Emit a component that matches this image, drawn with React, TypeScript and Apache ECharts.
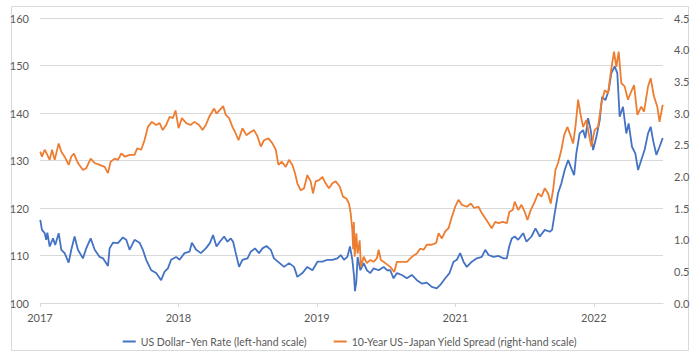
import React, { useEffect, useRef } from "react";
import * as echarts from "echarts";

// x = years since the first tick (first tick labelled 2017)
const tickLabels = ["2017", "2018", "2019", "2021", "2022"];
const tickPositions = [0, 1, 2, 3, 4];

const usdJpyRate: [number, number][] = [
  [0.002, 117.5], [0.014, 115.4], [0.034, 114.7], [0.045, 113.3], [0.053, 114.8], [0.07, 111.9],
  [0.094, 113.6], [0.11, 112.2], [0.135, 114.7], [0.154, 111.2], [0.178, 110.5], [0.207, 108.5],
  [0.226, 111.2], [0.25, 114.0], [0.274, 111.2], [0.31, 109.4], [0.334, 111.5], [0.366, 113.6],
  [0.395, 111.2], [0.431, 109.7], [0.455, 109.4], [0.491, 107.8], [0.503, 111.5], [0.527, 112.7],
  [0.563, 112.6], [0.599, 113.8], [0.623, 113.3], [0.647, 111.2], [0.683, 113.3], [0.719, 112.7],
  [0.743, 111.2], [0.767, 109.1], [0.803, 106.9], [0.839, 106.3], [0.875, 104.8], [0.9, 106.6],
  [0.924, 107.3], [0.947, 109.1], [0.983, 109.7], [1.008, 109.1], [1.044, 110.5], [1.08, 110.8],
  [1.097, 112.7], [1.128, 111.2], [1.162, 110.5], [1.198, 111.5], [1.227, 112.6], [1.25, 114.3],
  [1.275, 111.9], [1.299, 112.9], [1.33, 114.0], [1.354, 112.9], [1.378, 113.6], [1.395, 112.9],
  [1.414, 110.5], [1.438, 107.6], [1.462, 109.1], [1.499, 109.4], [1.522, 110.8], [1.553, 111.5],
  [1.582, 110.5], [1.607, 111.5], [1.636, 112.0], [1.667, 111.2], [1.69, 109.4], [1.727, 108.5],
  [1.763, 107.6], [1.799, 108.4], [1.835, 107.6], [1.859, 105.5], [1.895, 106.3], [1.931, 107.6],
  [1.968, 106.9], [2.004, 108.7], [2.04, 108.7], [2.076, 109.1], [2.112, 109.1], [2.148, 109.4],
  [2.172, 110.1], [2.196, 109.1], [2.22, 109.7], [2.239, 111.9], [2.256, 109.1], [2.269, 105.5],
  [2.275, 102.5], [2.285, 104.5], [2.294, 109.7], [2.314, 106.9], [2.338, 108.4], [2.361, 106.9],
  [2.386, 106.3], [2.41, 107.3], [2.446, 106.9], [2.482, 107.6], [2.506, 106.9], [2.53, 106.9],
  [2.554, 105.2], [2.578, 106.3], [2.614, 105.9], [2.65, 105.2], [2.686, 105.9], [2.722, 104.8],
  [2.758, 104.1], [2.794, 104.3], [2.83, 103.4], [2.866, 103.1], [2.891, 103.8], [2.927, 105.2],
  [2.958, 106.3], [2.987, 108.7], [3.011, 109.1], [3.035, 110.5], [3.059, 108.7], [3.083, 107.6],
  [3.119, 108.7], [3.155, 109.4], [3.191, 109.7], [3.216, 111.2], [3.24, 110.1], [3.276, 109.7],
  [3.312, 109.9], [3.348, 109.4], [3.372, 109.4], [3.389, 111.9], [3.408, 113.6], [3.429, 114.0],
  [3.454, 113.3], [3.49, 114.7], [3.514, 112.9], [3.55, 114.0], [3.579, 115.7], [3.61, 114.0],
  [3.646, 115.4], [3.682, 115.0], [3.699, 115.4], [3.718, 118.9], [3.742, 123.1], [3.766, 125.2],
  [3.79, 128.0], [3.815, 130.1], [3.833, 128.7], [3.858, 126.9], [3.874, 131.5], [3.898, 135.7],
  [3.923, 136.4], [3.939, 134.7], [3.959, 138.9], [3.978, 136.4], [3.995, 132.2], [4.019, 135.0],
  [4.043, 138.5], [4.06, 143.4], [4.084, 142.7], [4.108, 144.8], [4.127, 148.4], [4.151, 149.8],
  [4.17, 148.4], [4.187, 139.2], [4.211, 141.3], [4.235, 135.7], [4.252, 137.8], [4.276, 132.9],
  [4.3, 131.5], [4.32, 128.0], [4.343, 130.1], [4.367, 132.2], [4.392, 135.7], [4.411, 137.1],
  [4.428, 134.3], [4.452, 131.2], [4.475, 132.9], [4.498, 134.7],
];

const yieldSpread: [number, number][] = [
  [0.002, 2.39], [0.014, 2.31], [0.034, 2.42], [0.053, 2.34], [0.07, 2.26], [0.087, 2.42],
  [0.106, 2.26], [0.135, 2.52], [0.154, 2.39], [0.178, 2.31], [0.207, 2.18], [0.226, 2.31],
  [0.245, 2.36], [0.274, 2.21], [0.31, 2.10], [0.334, 2.13], [0.366, 2.28], [0.395, 2.21],
  [0.431, 2.18], [0.467, 2.15], [0.491, 2.05], [0.51, 2.23], [0.539, 2.28], [0.563, 2.26],
  [0.587, 2.36], [0.615, 2.31], [0.647, 2.34], [0.683, 2.34], [0.702, 2.44], [0.731, 2.42],
  [0.755, 2.57], [0.779, 2.78], [0.808, 2.86], [0.839, 2.81], [0.864, 2.84], [0.887, 2.73],
  [0.911, 2.81], [0.936, 2.94], [0.96, 2.92], [0.979, 3.04], [1.001, 2.76], [1.025, 2.92],
  [1.056, 2.84], [1.087, 2.81], [1.116, 2.86], [1.149, 2.81], [1.174, 2.73], [1.198, 2.81],
  [1.222, 2.94], [1.258, 3.07], [1.275, 2.99], [1.299, 3.05], [1.323, 3.11], [1.342, 2.97],
  [1.366, 2.92], [1.39, 2.78], [1.409, 2.70], [1.434, 2.57], [1.462, 2.76], [1.491, 2.65],
  [1.522, 2.70], [1.546, 2.73], [1.571, 2.63], [1.595, 2.47], [1.618, 2.57], [1.65, 2.60],
  [1.679, 2.52], [1.703, 2.42], [1.722, 2.18], [1.746, 2.23], [1.775, 2.15], [1.799, 2.26],
  [1.823, 2.18], [1.842, 2.05], [1.859, 1.89], [1.883, 1.78], [1.907, 1.81], [1.931, 2.02],
  [1.955, 1.92], [1.972, 1.73], [1.991, 1.92], [2.015, 1.94], [2.04, 1.99], [2.063, 1.89],
  [2.087, 1.81], [2.112, 1.89], [2.136, 1.92], [2.165, 1.84], [2.188, 1.68], [2.213, 1.65],
  [2.232, 1.57], [2.244, 1.42], [2.256, 1.15], [2.262, 0.85], [2.267, 1.28], [2.273, 0.73],
  [2.285, 1.10], [2.294, 0.78], [2.309, 0.99], [2.318, 0.57], [2.338, 0.73], [2.361, 0.63],
  [2.386, 0.68], [2.41, 0.65], [2.434, 0.71], [2.446, 0.84], [2.462, 0.68], [2.494, 0.63],
  [2.53, 0.57], [2.559, 0.49], [2.578, 0.65], [2.614, 0.65], [2.65, 0.65], [2.686, 0.73],
  [2.722, 0.78], [2.747, 0.86], [2.771, 0.84], [2.794, 0.92], [2.83, 0.92], [2.862, 0.95],
  [2.879, 1.10], [2.903, 1.02], [2.927, 1.13], [2.951, 1.18], [2.975, 1.36], [2.999, 1.52],
  [3.023, 1.63], [3.047, 1.55], [3.083, 1.52], [3.112, 1.57], [3.136, 1.50], [3.167, 1.52],
  [3.191, 1.42], [3.216, 1.34], [3.24, 1.26], [3.263, 1.18], [3.288, 1.28], [3.312, 1.26],
  [3.343, 1.28], [3.372, 1.26], [3.391, 1.44], [3.415, 1.47], [3.429, 1.60], [3.454, 1.47],
  [3.478, 1.55], [3.501, 1.44], [3.521, 1.31], [3.545, 1.47], [3.574, 1.60], [3.598, 1.73],
  [3.622, 1.68], [3.646, 1.81], [3.67, 1.73], [3.689, 1.57], [3.706, 1.78], [3.723, 2.10],
  [3.742, 2.21], [3.766, 2.42], [3.786, 2.65], [3.81, 2.78], [3.826, 2.68], [3.851, 2.52],
  [3.869, 2.81], [3.887, 3.21], [3.905, 2.97], [3.923, 2.78], [3.947, 2.89], [3.963, 2.68],
  [3.983, 2.47], [4.006, 2.73], [4.031, 2.78], [4.055, 3.15], [4.079, 3.36], [4.103, 3.31],
  [4.122, 3.63], [4.146, 3.97], [4.163, 3.73], [4.18, 3.97], [4.199, 3.47], [4.223, 3.42],
  [4.247, 3.21], [4.271, 3.34], [4.291, 3.44], [4.315, 2.97], [4.343, 3.10], [4.363, 3.02],
  [4.392, 3.42], [4.411, 3.55], [4.435, 3.26], [4.459, 3.10], [4.475, 2.86], [4.498, 3.13],
];

const seriesNames = [
  "US Dollar\u2013Yen Rate (left-hand scale)",
  "10-Year US\u2013Japan Yield Spread (right-hand scale)",
];

const FONT = "Lato, 'Open Sans', sans-serif";
const GRID = "#d9d9d9";
const LABEL = "#595959";

export default function App() {
  const ref = useRef<HTMLDivElement>(null);
  useEffect(() => {
    if (!ref.current) return;
    const chart = echarts.init(ref.current, undefined, { renderer: "svg" });
    chart.setOption({
      animation: false,
      textStyle: { fontFamily: FONT },
      color: ["#4472C4", "#ED7D31"],
      graphic: [
        {
          type: "rect",
          silent: true,
          z: -10,
          shape: { x: 11.5, y: 6.5, width: 677, height: 344 },
          style: { fill: "none", stroke: GRID, lineWidth: 1 },
        },
      ],
      grid: { left: 40, right: 37, top: 18, bottom: 53, containLabel: false },
      legend: {
        top: 331,
        left: "center",
        icon: "rect",
        itemWidth: 13,
        itemHeight: 2,
        itemGap: 27,
        textStyle: { fontFamily: FONT, fontSize: 10.5, color: LABEL },
        data: seriesNames,
      },
      xAxis: {
        type: "value",
        min: 0,
        max: 4.5,
        interval: 1,
        axisLine: { show: true, lineStyle: { color: GRID, width: 1 } },
        axisTick: { show: true, length: 4, lineStyle: { color: GRID }, customValues: tickPositions },
        splitLine: { show: false },
        axisLabel: {
          customValues: tickPositions,
          color: LABEL,
          fontSize: 11,
          margin: 9,
          formatter: (v: number) => tickLabels[Math.round(v)] ?? "",
        },
      },
      yAxis: [
        {
          type: "value",
          min: 100,
          max: 160,
          interval: 10,
          axisLine: { show: false },
          axisTick: { show: false },
          splitLine: { show: true, lineStyle: { color: GRID, width: 1 } },
          axisLabel: { color: LABEL, fontSize: 11, margin: 11 },
        },
        {
          type: "value",
          position: "right",
          min: 0,
          max: 4.5,
          interval: 0.5,
          axisLine: { show: false },
          axisTick: { show: false },
          splitLine: { show: false },
          axisLabel: {
            color: LABEL,
            fontSize: 11,
            margin: 11,
            formatter: (v: number) => v.toFixed(1),
          },
        },
      ],
      series: [
        {
          name: seriesNames[0],
          type: "line",
          yAxisIndex: 0,
          showSymbol: false,
          data: usdJpyRate,
          lineStyle: { width: 1.8, color: "#4472C4" },
          itemStyle: { color: "#4472C4" },
        },
        {
          name: seriesNames[1],
          type: "line",
          yAxisIndex: 1,
          showSymbol: false,
          data: yieldSpread,
          lineStyle: { width: 1.8, color: "#ED7D31" },
          itemStyle: { color: "#ED7D31" },
        },
      ],
    });
    return () => chart.dispose();
  }, []);
  return (
    <div
      ref={ref}
      style={{ position: "absolute", left: 0, top: 0, width: 700, height: 356, background: "#fff" }}
    />
  );
}
